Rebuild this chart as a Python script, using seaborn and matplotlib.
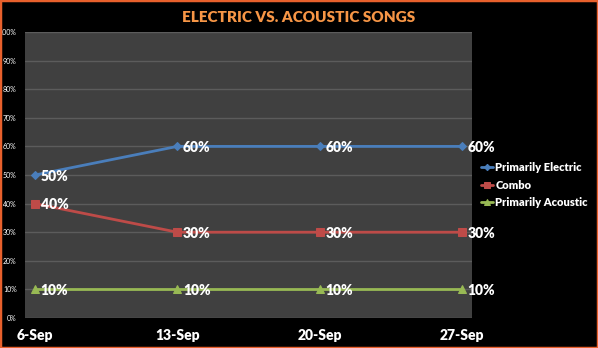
import matplotlib
matplotlib.use("Agg")
import matplotlib.pyplot as plt
import seaborn as sns
import pandas as pd
from matplotlib.patches import Rectangle

dates = ["6-Sep", "13-Sep", "20-Sep", "27-Sep"]
electric = [50, 60, 60, 60]
combo = [40, 30, 30, 30]
acoustic = [10, 10, 10, 10]
series_names = ["Primarily Electric", "Combo", "Primarily Acoustic"]
y_ticks = [0, 10, 20, 30, 40, 50, 60, 70, 80, 90, 100]

df = pd.DataFrame({
    "date": dates * 3,
    "pos": list(range(len(dates))) * 3,
    "value": electric + combo + acoustic,
    "series": [series_names[0]] * 4 + [series_names[1]] * 4 + [series_names[2]] * 4,
})

sns.set_theme(style="dark")
plt.rcParams["font.family"] = ["Lato", "DejaVu Sans"]

colors = {"Primarily Electric": "#4a7ebb", "Combo": "#be4b48", "Primarily Acoustic": "#98b954"}
markers = {"Primarily Electric": "D", "Combo": "s", "Primarily Acoustic": "^"}
msizes = {"Primarily Electric": 4, "Combo": 6, "Primarily Acoustic": 6}

fig = plt.figure(figsize=(5.98, 3.48), dpi=100, facecolor="black")
ax = fig.add_axes([25 / 598, 1 - 318 / 348, (472 - 25) / 598, (318 - 32) / 348])
ax.set_facecolor("#404040")

for name in series_names:
    sub = df[df["series"] == name]
    sns.lineplot(data=sub, x="pos", y="value", ax=ax, color=colors[name],
                 marker=markers[name], markersize=msizes[name], linewidth=2,
                 markeredgecolor=colors[name], label=name, zorder=3)
    for x, v in zip(sub["pos"], sub["value"]):
        ax.annotate(f"{v}%", (x, v), xytext=(4, -1), textcoords="offset points",
                    ha="left", va="center", color="white", fontsize=10,
                    fontweight="heavy", zorder=4)

ax.set_xlim(-0.07, 3.07)
ax.set_ylim(0, 100)
ax.set_yticks(y_ticks)
ax.set_yticklabels([f"{t}%" for t in y_ticks], color="white", fontsize=5)
ax.set_xticks(range(len(dates)))
ax.set_xticklabels(dates, color="white", fontsize=10, fontweight="heavy")
ax.tick_params(axis="x", pad=8, length=0)
ax.tick_params(axis="y", pad=6, length=0)
ax.grid(axis="y", color="#5c5c5c", linewidth=1)
ax.grid(axis="x", visible=False)
for s in ax.spines.values():
    s.set_visible(False)
ax.set_xlabel("")
ax.set_ylabel("")

leg = ax.legend(loc="center left", bbox_to_anchor=(481 / 598, 1 - 185 / 348),
                bbox_transform=fig.transFigure, frameon=False, fontsize=8,
                handlelength=1.1, handletextpad=0.2, labelspacing=0.6,
                borderaxespad=0, borderpad=0, markerscale=0.8)
for t in leg.get_texts():
    t.set_color("white")
    t.set_fontweight("heavy")

fig.text(0.5, 1 - 17 / 348, "ELECTRIC VS. ACOUSTIC SONGS", ha="center", va="center",
         color="#f79646", fontsize=11, fontweight="heavy")

fig.patches.append(Rectangle((0, 0), 1, 1, transform=fig.transFigure, fill=False,
                             edgecolor="#e8602c", linewidth=2.5))

fig.savefig("out.png", dpi=100, facecolor="black")
